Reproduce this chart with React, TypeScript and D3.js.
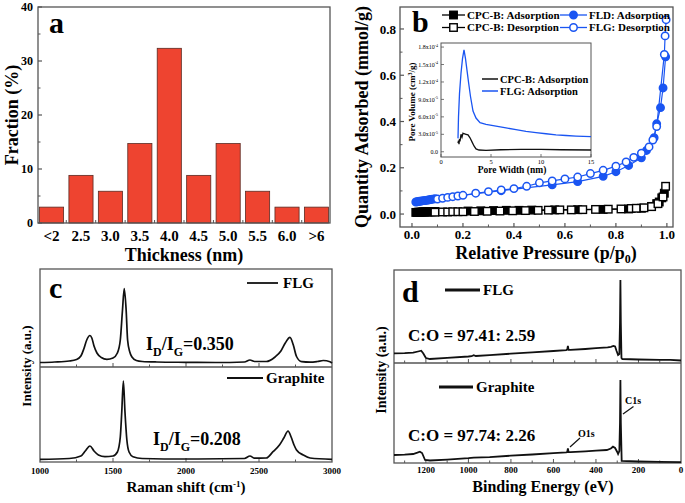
import React from 'react';
import * as d3 from 'd3';

const FONT = '"Liberation Serif", "Times New Roman", serif';

// ---------- Panel a: thickness histogram ----------
const thicknessCats = ['<2', '2.5', '3.0', '3.5', '4.0', '4.5', '5.0', '5.5', '6.0', '>6'];
const fractionPct = [2.94, 8.82, 5.88, 14.71, 32.35, 8.82, 14.71, 5.88, 2.94, 2.94];
const fractionTicks = [0, 10, 20, 30, 40];

// ---------- Panel b: N2 isotherms ----------
const cpcAdsP = [0.015, 0.02, 0.025, 0.03, 0.035, 0.04, 0.045, 0.05, 0.055, 0.06, 0.065, 0.07, 0.075, 0.08, 0.09, 0.22, 0.27, 0.32, 0.37, 0.42, 0.47, 0.56, 0.65, 0.75, 0.85, 0.9, 0.94, 0.96, 0.97, 0.98, 0.99];
const cpcAdsV = [0.007, 0.007, 0.008, 0.008, 0.008, 0.009, 0.009, 0.009, 0.009, 0.009, 0.010, 0.010, 0.010, 0.010, 0.011, 0.013, 0.014, 0.015, 0.016, 0.016, 0.017, 0.018, 0.019, 0.020, 0.022, 0.025, 0.033, 0.045, 0.052, 0.07, 0.09];
const cpcDesP = [0.09, 0.12, 0.14, 0.16, 0.18, 0.2, 0.245, 0.295, 0.345, 0.395, 0.445, 0.495, 0.535, 0.58, 0.625, 0.67, 0.72, 0.77, 0.82, 0.86, 0.88, 0.91, 0.94, 0.965, 0.985, 0.995];
const cpcDesV = [0.008, 0.009, 0.009, 0.010, 0.010, 0.010, 0.011, 0.012, 0.013, 0.014, 0.015, 0.016, 0.017, 0.018, 0.018, 0.019, 0.020, 0.021, 0.022, 0.024, 0.025, 0.027, 0.032, 0.045, 0.074, 0.12];
const flgAdsP = [0.015, 0.02, 0.025, 0.03, 0.035, 0.04, 0.045, 0.05, 0.055, 0.06, 0.065, 0.07, 0.075, 0.08, 0.09, 0.35, 0.55, 0.65, 0.75, 0.80, 0.85, 0.90, 0.92, 0.95, 0.96, 0.975, 0.985, 0.995];
const flgAdsV = [0.052, 0.053, 0.054, 0.055, 0.056, 0.057, 0.058, 0.058, 0.059, 0.060, 0.061, 0.062, 0.063, 0.064, 0.066, 0.101, 0.126, 0.140, 0.163, 0.183, 0.21, 0.243, 0.275, 0.33, 0.39, 0.46, 0.545, 0.68];
const flgDesP = [0.10, 0.12, 0.14, 0.16, 0.18, 0.20, 0.25, 0.30, 0.35, 0.40, 0.45, 0.50, 0.55, 0.60, 0.65, 0.70, 0.75, 0.80, 0.84, 0.87, 0.90, 0.93, 0.945, 0.96, 0.99, 0.993, 0.997];
const flgDesV = [0.065, 0.068, 0.072, 0.075, 0.078, 0.081, 0.090, 0.097, 0.104, 0.110, 0.120, 0.135, 0.143, 0.152, 0.160, 0.175, 0.189, 0.207, 0.225, 0.245, 0.263, 0.29, 0.32, 0.378, 0.69, 0.77, 0.84];
const pressureTicks = [0, 0.2, 0.4, 0.6, 0.8, 1.0];
const adsorbedTicks = [0, 0.2, 0.4, 0.6, 0.8];

// inset: pore size distribution
const poreWFlg = [1.7, 1.75, 1.85, 2.0, 2.15, 2.3, 2.45, 2.6, 2.75, 2.95, 3.2, 3.5, 3.9, 4.5, 5.5, 6.5, 7.5, 8.5, 9.5, 10.5, 11.5, 12.5, 13.5, 15];
const poreVFlg = [2.3, 6, 10, 13.5, 16, 17.5, 16, 14, 12, 9.5, 7, 5.8, 5.0, 4.7, 4.4, 4.1, 3.8, 3.5, 3.3, 3.1, 2.9, 2.8, 2.7, 2.6].map(v => v * 1e-5);
const poreWCpc = [1.7, 1.75, 1.8, 1.85, 1.9, 2.0, 2.1, 2.2, 2.3, 2.5, 2.7, 2.9, 3.1, 3.3, 3.5, 3.8, 4.5, 6, 8, 10, 12, 15];
const poreVCpc = [1.5, 1.9, 1.3, 2.2, 1.8, 3.0, 2.5, 3.2, 3.1, 3.0, 2.9, 2.4, 1.7, 1.0, 0.5, 0.3, 0.25, 0.35, 0.4, 0.4, 0.35, 0.3].map(v => v * 1e-5);
const poreWTicks = [0, 5, 10, 15];
const poreVTickMant = ['0.0', '3.0', '6.0', '9.0', '1.2', '1.5', '1.8'];
const poreVTickExp = ['', '-5', '-5', '-5', '-4', '-4', '-4'];
const poreVTicks = [0, 3e-5, 6e-5, 9e-5, 1.2e-4, 1.5e-4, 1.8e-4];

// ---------- Panel c: Raman ----------
const ramanFlgX = [1000, 1100, 1200, 1250, 1280, 1300, 1320, 1342, 1355, 1370, 1390, 1420, 1458, 1500, 1530, 1550, 1565, 1577, 1590, 1600, 1615, 1630, 1660, 1700, 1800, 2000, 2200, 2400, 2438, 2470, 2550, 2610, 2650, 2680, 2712, 2735, 2757, 2792, 2850, 2900, 2940, 2986, 3000];
const ramanFlgI = [4.5, 5, 6, 7.5, 11, 18, 27, 31.5, 29, 21, 14, 9.5, 7.7, 9, 14, 27, 57, 78.5, 57, 27, 15, 10, 6.5, 5.5, 5, 4.7, 4.5, 5, 7, 5.5, 5.5, 10, 16, 24, 29.7, 22, 10.5, 5.3, 4.8, 5.5, 6.5, 5.3, 4];
const ramanGraX = [1000, 1200, 1280, 1310, 1342, 1370, 1400, 1445, 1500, 1530, 1550, 1560, 1571, 1582, 1595, 1610, 1637, 1700, 2000, 2400, 2438, 2470, 2550, 2596, 2640, 2670, 2699, 2720, 2740, 2757, 2803, 2850, 3000];
const ramanGraI = [2.7, 3.5, 6, 11, 16, 11, 7, 5.3, 6, 10, 25, 50, 81, 50, 22, 10, 5.3, 3.5, 3, 3.5, 6, 3.8, 4, 10.3, 17, 24, 31, 25, 17, 12, 7, 4, 2.7];
const ramanTicks = [1000, 1500, 2000, 2500, 3000];

// ---------- Panel d: XPS ----------
const xpsFlgE = [1350, 1300, 1260, 1237, 1222, 1212, 1200, 1181, 1100, 1000, 985, 975, 965, 900, 800, 700, 600, 540, 535, 532, 529, 520, 450, 400, 345, 330, 318, 310, 303, 296, 290, 287, 285, 283, 280, 276, 200, 100, 50, 0];
const xpsFlgI = [9.7, 9.8, 10.3, 11.5, 12.3, 9.5, 5, 4, 5.1, 6.5, 6.8, 7.8, 7.0, 7.9, 9.3, 10.6, 12.0, 12.9, 13.5, 17, 13.2, 13.1, 14.0, 14.8, 15.6, 16.2, 17, 16.5, 12, 8, 9, 40, 83, 40, 5, 4, 3.5, 3.2, 3.2, 2.5];
const xpsGraE = [1350, 1300, 1260, 1240, 1228, 1218, 1210, 1204, 1181, 1100, 1000, 975, 900, 800, 700, 600, 540, 535, 532, 529, 520, 450, 400, 349, 330, 320, 310, 300, 296, 290, 287, 285, 283, 279, 200, 100, 0];
const xpsGraI = [8, 8.3, 9, 10.3, 11.3, 10, 6, 3, 2.5, 3.4, 4.8, 5.3, 5.8, 7.3, 8.5, 9.8, 10.6, 11, 14.7, 11, 10.8, 11.7, 12.4, 13, 14.5, 16.3, 15, 11, 9, 12, 40, 83, 40, 2, 1.5, 1.2, 0.8];
const xpsTicks = [1200, 1000, 800, 600, 400, 200, 0];

const BLUE = '#1a55f2';
const FRAME = '#555';

function Square({ x, y, filled, s = 7.5 }: { x: number; y: number; filled: boolean; s?: number }) {
  return <rect x={x - s / 2} y={y - s / 2} width={s} height={s} fill={filled ? '#000' : '#fff'} stroke="#000" strokeWidth={1.4} />;
}
function Circle({ x, y, filled, r = 3.7 }: { x: number; y: number; filled: boolean; r?: number }) {
  return <circle cx={x} cy={y} r={r} fill={filled ? BLUE : '#fff'} stroke={BLUE} strokeWidth={1.5} />;
}

export default function App() {
  // ---- panel a scales
  const xA = d3.scaleBand<string>().domain(thicknessCats).range([38, 330]).paddingInner(0.18).paddingOuter(0.05);
  const yA = d3.scaleLinear().domain([0, 40]).range([223, 7]);
  const stepA = xA.step();
  const gapA = stepA - xA.bandwidth();

  // ---- panel b scales
  const xB = d3.scaleLinear().domain([-0.047, 1.024]).range([400, 673]);
  const yB = d3.scaleLinear().domain([-0.056, 0.895]).range([227, 7]);
  const lineB = (ps: number[], vs: number[]) => d3.line<number>().x((_, i) => xB(ps[i])).y((v) => yB(v))(vs) || '';

  // inset
  const xI = d3.scaleLinear().domain([0, 15]).range([441, 591]);
  const yI = d3.scaleLinear().domain([-0.9e-5, 18.7e-5]).range([157, 43]);
  const lineI = (ws: number[], vs: number[]) => d3.line<number>().x((_, i) => xI(ws[i])).y((v) => yI(v))(vs) || '';

  // ---- panel c scales
  const xC = d3.scaleLinear().domain([1000, 3000]).range([40, 332]);
  const yC1 = d3.scaleLinear().domain([0, 98]).range([367, 269]);
  const yC2 = d3.scaleLinear().domain([0, 95]).range([462, 367]);
  const lineC = (xs: number[], is: number[], ys: d3.ScaleLinear<number, number>) =>
    d3.line<number>().x((_, i) => xC(xs[i])).y((v) => ys(v)).curve(d3.curveMonotoneX)(is) || '';

  // ---- panel d scales
  const xD = d3.scaleLinear().domain([1350, 0]).range([394, 681]);
  const yD1 = d3.scaleLinear().domain([0, 93]).range([363, 270]);
  const yD2 = d3.scaleLinear().domain([0, 100]).range([463, 363]);
  const lineD = (es: number[], is: number[], ys: d3.ScaleLinear<number, number>) =>
    d3.line<number>().x((_, i) => xD(es[i])).y((v) => ys(v))(is) || '';

  const ramanMinor = d3.range(1250, 3000, 250);
  const xpsMinor = d3.range(1300, 0, -100);

  return (
    <svg width={685} height={503} style={{ position: 'absolute', left: 0, top: 0, background: '#fff' }} fontFamily={FONT} fontWeight="bold">
      <rect x={0} y={0} width={685} height={503} fill="#fff" />

      {/* ================= Panel a ================= */}
      <g>
        {thicknessCats.map((c, i) => (
          <rect key={c} x={xA(c)} y={yA(fractionPct[i])} width={xA.bandwidth()} height={yA(0) - yA(fractionPct[i])} fill="#ee4430" stroke="#5a2a22" strokeWidth={0.8} />
        ))}
        <rect x={38} y={7} width={292} height={216} fill="none" stroke={FRAME} strokeWidth={1.3} />
        {fractionTicks.map((t) => (
          <g key={t}>
            <line x1={38} x2={42} y1={yA(t)} y2={yA(t)} stroke={FRAME} strokeWidth={1.2} />
            <text x={33} y={yA(t)} dy="0.35em" textAnchor="end" fontSize={12}>{t}</text>
          </g>
        ))}
        {[5, 15, 25, 35].map((t) => (
          <line key={t} x1={38} x2={40.5} y1={yA(t)} y2={yA(t)} stroke={FRAME} strokeWidth={1} />
        ))}
        {thicknessCats.slice(1).map((c) => (
          <line key={c} x1={(xA(c) as number) - gapA / 2} x2={(xA(c) as number) - gapA / 2} y1={223} y2={220} stroke={FRAME} strokeWidth={1} />
        ))}
        {thicknessCats.map((c) => (
          <text key={c} x={(xA(c) as number) + xA.bandwidth() / 2} y={241} textAnchor="middle" fontSize={15}>{c}</text>
        ))}
        <text x={184} y={261} textAnchor="middle" fontSize={18}>Thickness (nm)</text>
        <text transform="translate(18,115) rotate(-90)" textAnchor="middle" fontSize={18}>Fraction (%)</text>
        <text x={49} y={33} fontSize={30}>a</text>
      </g>

      {/* ================= Panel b ================= */}
      <g>
        <rect x={400} y={7} width={273} height={220} fill="none" stroke={FRAME} strokeWidth={1.3} />
        {adsorbedTicks.map((t) => (
          <g key={t}>
            <line x1={400} x2={404} y1={yB(t)} y2={yB(t)} stroke={FRAME} strokeWidth={1.2} />
            <text x={396} y={yB(t)} dy="0.35em" textAnchor="end" fontSize={13}>{t.toFixed(1)}</text>
          </g>
        ))}
        {[0.1, 0.3, 0.5, 0.7].map((t) => (
          <line key={t} x1={400} x2={402.5} y1={yB(t)} y2={yB(t)} stroke={FRAME} strokeWidth={1} />
        ))}
        {pressureTicks.map((t) => (
          <g key={t}>
            <line x1={xB(t)} x2={xB(t)} y1={227} y2={223} stroke={FRAME} strokeWidth={1.2} />
            <text x={xB(t)} y={239} textAnchor="middle" fontSize={13}>{t.toFixed(1)}</text>
          </g>
        ))}
        {[0.1, 0.3, 0.5, 0.7, 0.9].map((t) => (
          <line key={t} x1={xB(t)} x2={xB(t)} y1={227} y2={224.5} stroke={FRAME} strokeWidth={1} />
        ))}

        {/* inset */}
        <rect x={441} y={43} width={150} height={114} fill="#fff" stroke={FRAME} strokeWidth={1} />
        {poreWTicks.map((t) => (
          <g key={t}>
            <line x1={xI(t)} x2={xI(t)} y1={157} y2={154} stroke={FRAME} strokeWidth={0.8} />
            <text x={xI(t)} y={164} textAnchor="middle" fontSize={6.5} fontWeight="normal">{t}</text>
          </g>
        ))}
        {poreVTicks.map((t, i) => (
          <g key={i}>
            <line x1={441} x2={444} y1={yI(t)} y2={yI(t)} stroke={FRAME} strokeWidth={0.8} />
            <text x={438} y={yI(t)} dy="0.35em" textAnchor="end" fontSize={6} fontWeight="normal">
              {poreVTickMant[i]}
              {poreVTickExp[i] ? <tspan>x10</tspan> : null}
              {poreVTickExp[i] ? <tspan dy={-2.5} fontSize={4}>{poreVTickExp[i]}</tspan> : null}
            </text>
          </g>
        ))}
        <path d={lineI(poreWCpc, poreVCpc)} fill="none" stroke="#111" strokeWidth={1.3} />
        <path d={lineI(poreWFlg, poreVFlg)} fill="none" stroke={BLUE} strokeWidth={1.3} />
        <line x1={482} x2={498} y1={79} y2={79} stroke="#111" strokeWidth={1.5} />
        <text x={500} y={82.5} fontSize={10.5}>CPC-B: Adsorption</text>
        <line x1={482} x2={498} y1={91} y2={91} stroke={BLUE} strokeWidth={1.5} />
        <text x={500} y={94.5} fontSize={10.5}>FLG: Adsorption</text>
        <text x={512} y={173} textAnchor="middle" fontSize={9.5}>Pore Width (nm)</text>
        <text transform="translate(415,102) rotate(-90)" textAnchor="middle" fontSize={9}>
          Pore Volume (cm<tspan dy={-3} fontSize={6}>3</tspan><tspan dy={3}>/g)</tspan>
        </text>

        {/* isotherms */}
        <path d={lineB(cpcAdsP, cpcAdsV)} fill="none" stroke="#000" strokeWidth={1.2} />
        <path d={lineB(cpcDesP, cpcDesV)} fill="none" stroke="#000" strokeWidth={1.2} />
        {cpcAdsP.map((p, i) => <Square key={'ca' + i} x={xB(p)} y={yB(cpcAdsV[i])} filled={true} />)}
        {cpcDesP.map((p, i) => <Square key={'cd' + i} x={xB(p)} y={yB(cpcDesV[i])} filled={false} />)}
        <path d={lineB(flgAdsP, flgAdsV)} fill="none" stroke={BLUE} strokeWidth={1.2} />
        <path d={lineB(flgDesP, flgDesV)} fill="none" stroke={BLUE} strokeWidth={1.2} />
        {flgAdsP.map((p, i) => <Circle key={'fa' + i} x={xB(p)} y={yB(flgAdsV[i])} filled={true} />)}
        {flgDesP.map((p, i) => <Circle key={'fd' + i} x={xB(p)} y={yB(flgDesV[i])} filled={false} />)}

        {/* legend */}
        <line x1={442} x2={465} y1={15} y2={15} stroke="#000" strokeWidth={1.3} />
        <Square x={453.5} y={15} filled={true} />
        <text x={467} y={18.8} fontSize={11}>CPC-B: Adsorption</text>
        <line x1={442} x2={465} y1={27.5} y2={27.5} stroke="#000" strokeWidth={1.3} />
        <Square x={453.5} y={27.5} filled={false} />
        <text x={467} y={31.3} fontSize={11}>CPC-B: Desorption</text>
        <line x1={560} x2={587} y1={15} y2={15} stroke={BLUE} strokeWidth={1.3} />
        <Circle x={573.5} y={15} filled={true} />
        <text x={589} y={18.8} fontSize={11}>FLD: Adsorption</text>
        <line x1={560} x2={587} y1={27.5} y2={27.5} stroke={BLUE} strokeWidth={1.3} />
        <Circle x={573.5} y={27.5} filled={false} />
        <text x={589} y={31.3} fontSize={11}>FLG: Desorption</text>

        <text x={412} y={32} fontSize={30}>b</text>
        <text x={546} y={259} textAnchor="middle" fontSize={18}>
          Relative Pressure (p/p<tspan dy={4} fontSize={12}>0</tspan><tspan dy={-4}>)</tspan>
        </text>
        <text transform="translate(368,117) rotate(-90)" textAnchor="middle" fontSize={18}>Quantity Adsorbed (mmol/g)</text>
      </g>

      {/* ================= Panel c ================= */}
      <g>
        <rect x={40} y={269} width={292} height={193} fill="none" stroke={FRAME} strokeWidth={1.3} />
        <line x1={40} x2={332} y1={367} y2={367} stroke={FRAME} strokeWidth={1.3} />
        {ramanMinor.map((t) => (
          <g key={t}>
            <line x1={xC(t)} x2={xC(t)} y1={367} y2={t % 500 === 0 ? 363 : 364.5} stroke={FRAME} strokeWidth={1} />
            <line x1={xC(t)} x2={xC(t)} y1={462} y2={t % 500 === 0 ? 458 : 459.5} stroke={FRAME} strokeWidth={1} />
          </g>
        ))}
        {ramanTicks.map((t) => (
          <text key={t} x={xC(t)} y={474} textAnchor="middle" fontSize={9}>{t}</text>
        ))}
        <path d={lineC(ramanFlgX, ramanFlgI, yC1)} fill="none" stroke="#111" strokeWidth={1.7} />
        <path d={lineC(ramanGraX, ramanGraI, yC2)} fill="none" stroke="#111" strokeWidth={1.7} />
        <line x1={247} x2={278} y1={283} y2={283} stroke="#111" strokeWidth={1.8} />
        <text x={283} y={288} fontSize={15}>FLG</text>
        <line x1={227} x2={263} y1={378} y2={378} stroke="#111" strokeWidth={1.8} />
        <text x={266} y={383} fontSize={15}>Graphite</text>
        <text x={146} y={350} fontSize={18}>
          I<tspan dy={6} fontSize={12}>D</tspan><tspan dy={-6}>/I</tspan><tspan dy={6} fontSize={12}>G</tspan><tspan dy={-6}>=0.350</tspan>
        </text>
        <text x={153} y={445} fontSize={18}>
          I<tspan dy={6} fontSize={12}>D</tspan><tspan dy={-6}>/I</tspan><tspan dy={6} fontSize={12}>G</tspan><tspan dy={-6}>=0.208</tspan>
        </text>
        <text x={49} y={298} fontSize={30}>c</text>
        <text x={186} y={492} textAnchor="middle" fontSize={15}>
          Raman shift (cm<tspan dy={-5} fontSize={9}>-1</tspan><tspan dy={5}>)</tspan>
        </text>
        <text transform="translate(31,366) rotate(-90)" textAnchor="middle" fontSize={13}>Intensity (a.u.)</text>
      </g>

      {/* ================= Panel d ================= */}
      <g>
        <rect x={394} y={270} width={287} height={193} fill="none" stroke={FRAME} strokeWidth={1.3} />
        <line x1={394} x2={681} y1={363} y2={363} stroke={FRAME} strokeWidth={1.3} />
        {xpsMinor.map((t) => (
          <g key={t}>
            <line x1={xD(t)} x2={xD(t)} y1={363} y2={t % 200 === 0 ? 359 : 360.5} stroke={FRAME} strokeWidth={1} />
            <line x1={xD(t)} x2={xD(t)} y1={463} y2={t % 200 === 0 ? 459 : 460.5} stroke={FRAME} strokeWidth={1} />
          </g>
        ))}
        {xpsTicks.map((t) => (
          <text key={t} x={xD(t)} y={473} textAnchor="middle" fontSize={9}>{t}</text>
        ))}
        <path d={lineD(xpsFlgE, xpsFlgI, yD1)} fill="none" stroke="#111" strokeWidth={1.8} />
        <path d={lineD(xpsGraE, xpsGraI, yD2)} fill="none" stroke="#111" strokeWidth={1.8} />
        <line x1={445} x2={480} y1={290} y2={290} stroke="#111" strokeWidth={3} />
        <text x={483} y={295} fontSize={15}>FLG</text>
        <line x1={439} x2={473} y1={387} y2={387} stroke="#111" strokeWidth={3} />
        <text x={476} y={392} fontSize={15}>Graphite</text>
        <text x={408} y={341} fontSize={17}>C:O = 97.41: 2.59</text>
        <text x={408} y={441} fontSize={17}>C:O = 97.74: 2.26</text>
        <text x={578} y={437} fontSize={10}>O1s</text>
        <line x1={570} x2={580} y1={447} y2={438} stroke="#111" strokeWidth={1.2} />
        <text x={625} y={404} fontSize={10}>C1s</text>
        <line x1={623} x2={633.5} y1={414} y2={406.5} stroke="#111" strokeWidth={1.2} />
        <text x={402} y={302} fontSize={30}>d</text>
        <text x={543} y={492} textAnchor="middle" fontSize={16}>Binding Energy (eV)</text>
        <text transform="translate(386,370) rotate(-90)" textAnchor="middle" fontSize={14}>Intensity (a.u.)</text>
      </g>
    </svg>
  );
}
